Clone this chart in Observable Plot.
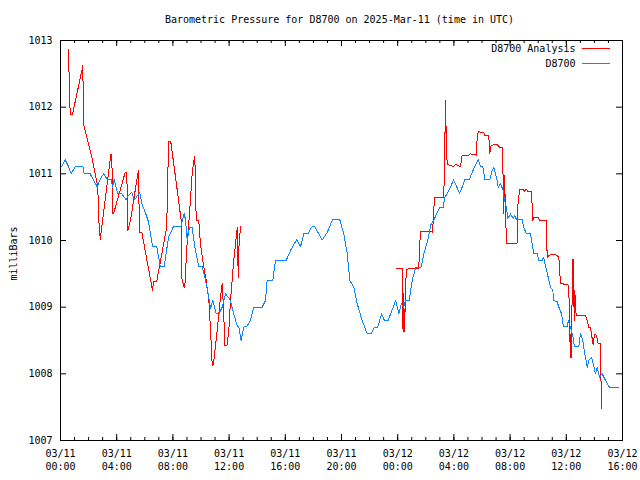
<!DOCTYPE html>
<html><head><meta charset="utf-8">
<script src="https://cdn.jsdelivr.net/npm/d3@7"></script>
<script src="https://cdn.jsdelivr.net/npm/@observablehq/plot@0.6"></script>
<style>html,body{margin:0;padding:0;background:#fff} svg{display:block}</style>
</head><body><div id="chart"></div>
<script>
// hours since 2025-03-11 00:00 UTC
const stationHours = [0.09,0.33,0.57,0.76,1.05,1.59,1.69,2.11,2.63,2.78,3.06,3.35,3.61,3.70,3.82,4.08,4.36,4.68,4.84,5.07,5.27,5.50,5.64,5.79,6.07,6.26,6.55,6.85,7.10,7.38,7.69,8.04,8.56,8.80,8.90,9.02,9.18,9.36,9.56,9.84,10.09,10.32,10.51,10.68,10.84,11.08,11.27,11.51,11.74,11.94,12.10,12.33,12.58,12.69,12.86,13.05,13.29,13.52,13.76,14.36,14.59,14.71,15.11,15.30,16.06,16.37,16.80,17.08,17.32,17.63,17.86,18.08,18.63,18.98,19.36,19.88,20.16,20.41,20.59,20.88,21.12,21.47,21.83,22.11,22.35,22.58,22.85,23.06,23.32,23.68,23.86,24.08,24.25,24.43,24.56,24.82,25.03,25.29,25.67,25.86,26.14,26.38,26.57,26.76,27.00,27.24,27.35,27.52,27.76,27.97,28.19,28.40,28.59,28.78,29.11,29.25,29.47,29.73,29.89,30.06,30.20,30.55,30.72,30.84,30.96,31.08,31.15,31.32,31.51,31.60,31.74,31.84,32.03,32.22,32.33,32.46,32.86,32.97,33.15,33.45,33.57,33.69,33.93,34.04,34.28,34.38,34.52,34.71,34.88,35.04,35.11,35.35,35.47,35.66,35.75,35.82,36.07,36.14,36.30,36.46,36.58,36.89,37.01,37.17,37.32,37.49,37.60,37.79,37.92,38.08,38.20,38.36,38.55,38.79,39.07,39.69];
const stationValues = [1011.11,1011.21,1011.11,1011.0,1011.11,1011.11,1011.0,1011.0,1010.8,1010.9,1011.0,1010.91,1010.91,1010.8,1010.91,1010.7,1010.7,1010.61,1010.68,1010.72,1010.61,1010.68,1010.72,1010.55,1010.4,1010.28,1009.91,1009.91,1009.61,1009.61,1010.05,1010.21,1010.21,1010.4,1010.31,1010.0,1010.2,1010.2,1009.9,1009.61,1009.61,1009.4,1009.2,1008.98,1009.1,1008.9,1008.9,1009.0,1009.2,1009.15,1009.1,1008.9,1008.72,1008.7,1008.5,1008.7,1008.72,1008.8,1009.0,1009.0,1009.1,1009.4,1009.4,1009.7,1009.7,1009.85,1010.01,1009.91,1010.1,1010.1,1010.2,1010.21,1010.01,1010.12,1010.31,1010.31,1010.1,1009.8,1009.4,1009.3,1009.05,1008.8,1008.6,1008.6,1008.7,1008.7,1008.9,1008.8,1008.8,1009.0,1009.1,1008.9,1009.05,1009.0,1009.1,1009.1,1009.4,1009.6,1009.6,1009.8,1010.0,1010.25,1010.3,1010.4,1010.5,1010.5,1010.65,1010.7,1010.8,1010.91,1010.81,1010.71,1010.8,1010.91,1010.91,1011.0,1011.1,1011.21,1011.11,1011.11,1010.91,1010.91,1011.05,1011.1,1011.0,1010.9,1010.8,1010.85,1010.75,1010.6,1010.5,1010.33,1010.4,1010.33,1010.38,1010.31,1010.31,1010.2,1010.1,1010.1,1009.95,1009.8,1009.8,1009.7,1009.7,1009.75,1009.62,1009.45,1009.3,1009.25,1009.1,1009.08,1009.0,1008.9,1008.76,1008.71,1008.71,1008.8,1008.7,1008.57,1008.41,1008.41,1008.6,1008.5,1008.3,1008.1,1008.2,1008.25,1008.15,1008.0,1008.1,1007.95,1008.0,1007.9,1007.8,1007.8];

const analysisHours = [0.57,0.62,0.69,0.85,1.52,1.59,1.64,1.87,2.23,2.47,2.65,2.75,2.83,2.88,3.58,3.65,3.72,3.80,4.60,4.72,4.79,4.98,5.50,5.55,5.62,5.79,6.55,6.62,6.85,7.56,7.69,7.85,8.28,8.59,8.63,8.80,8.90,8.95,9.09,9.23,9.37,9.49,9.56,9.66,9.84,9.96,10.20,10.37,10.56,10.68,10.80,10.89,11.15,11.39,11.51,11.62,11.69,11.86,11.98,12.10,12.33,12.46,12.58,12.65,12.70,12.81,18.00,23.91,24.34,24.38,24.43,24.48,24.61,24.79,25.50,25.55,25.62,26.38,26.48,26.62,27.28,27.35,27.40,27.45,27.52,27.99,28.11,28.47,28.59,29.06,29.18,29.59,29.66,29.73,30.13,30.20,30.48,30.55,30.65,31.08,31.27,31.44,31.51,31.55,31.60,31.74,32.50,32.55,32.67,32.93,33.02,33.17,33.26,33.52,33.62,33.69,34.00,34.11,34.57,34.64,34.88,35.23,35.47,35.59,35.75,36.14,36.23,36.28,36.33,36.37,36.44,36.48,36.52,36.56,36.60,36.70,37.37,37.49,37.60,37.72,37.84,37.91,38.00,38.15,38.27,38.43,38.50];
const analysisValues = [1012.87,1012.4,1011.89,1011.89,1012.55,1012.62,1011.75,1011.55,1011.25,1011.0,1010.8,1010.22,1010.02,1010.1,1011.29,1011.29,1010.4,1010.42,1011.02,1011.02,1010.15,1010.3,1011.0,1011.05,1010.12,1010.12,1009.25,1009.39,1009.39,1010.2,1011.48,1011.48,1010.8,1010.3,1009.43,1009.3,1009.4,1009.8,1010.15,1010.55,1011.0,1011.2,1011.26,1010.3,1010.3,1009.95,1009.6,1009.4,1009.1,1008.65,1008.12,1008.15,1008.65,1009.15,1009.35,1008.9,1008.43,1008.43,1008.65,1009.1,1009.7,1009.95,1010.2,1009.45,1009.9,1010.21,null,1009.58,1009.58,1008.63,1009.2,1008.63,1009.56,1009.58,1009.58,1009.85,1010.14,1010.14,1010.12,1010.65,1010.65,1011.37,1012.1,1011.6,1011.14,1011.11,1011.14,1011.11,1011.28,1011.28,1011.3,1011.28,1011.55,1011.63,1011.62,1011.58,1011.58,1011.3,1011.43,1011.44,1011.4,1011.4,1010.9,1010.4,1010.98,1009.96,1009.96,1010.52,1010.76,1010.76,1010.74,1010.77,1010.73,1010.73,1010.3,1010.34,1010.34,1010.3,1010.3,1009.75,1009.79,1009.79,1009.75,1009.35,1009.35,1009.33,1009.0,1008.25,1008.6,1008.25,1009.72,1009.0,1009.72,1008.8,1009.25,1008.88,1008.88,1008.8,1008.7,1008.7,1008.53,1008.43,1008.59,1008.58,1008.45,1008.45,1007.48];

const seriesNames = ["D8700 Analysis", "D8700"];
const seriesColors = ["#ff0000", "#0a84ff"];
const yTicks = [1007, 1008, 1009, 1010, 1011, 1012, 1013];
const xTickHours = [0, 4, 8, 12, 16, 20, 24, 28, 32, 36, 40];
const xTickDates = ["03/11","03/11","03/11","03/11","03/11","03/11","03/12","03/12","03/12","03/12","03/12"];
const xTickTimes = ["00:00","04:00","08:00","12:00","16:00","20:00","00:00","04:00","08:00","12:00","16:00"];
const minorHours = d3.range(0, 41, 1);
const titleText = "Barometric Pressure for D8700 on 2025-Mar-11 (time in UTC)";
const yLabelText = "milliBars";

const station = stationHours.map((h, i) => ({hour: h, mb: stationValues[i]}));
const analysis = analysisHours.map((h, i) => ({hour: h, mb: analysisValues[i]}));

const W = 640, H = 480, ML = 60, MR = 18, MT = 40, MB = 40;
const PW = W - ML - MR, PH = H - MT - MB;
const font = "DejaVu Sans Mono";

function legendLines(index, scales, values, dims) {
  const g = d3.create("svg:g");
  const xr = dims.width - dims.marginRight;
  const yt = dims.marginTop;
  seriesColors.forEach((c, i) => {
    g.append("line")
      .attr("x1", xr - 40).attr("x2", xr - 12)
      .attr("y1", yt + 8.5 + 15 * i).attr("y2", yt + 8.5 + 15 * i)
      .attr("stroke", c).attr("stroke-width", 1);
  });
  return g.node();
}

const chart = Plot.plot({
  width: W, height: H,
  marginLeft: ML, marginRight: MR, marginTop: MT, marginBottom: MB,
  style: {fontFamily: font, fontSize: "10px", background: "#fff", color: "#000"},
  x: {domain: [0, 40], axis: null},
  y: {domain: [1007, 1013], axis: null},
  marks: [
    Plot.line(analysis, {x: "hour", y: "mb", stroke: seriesColors[0], strokeWidth: 1, shapeRendering: "crispEdges"}),
    Plot.line(station, {x: "hour", y: "mb", stroke: seriesColors[1], strokeWidth: 1, shapeRendering: "crispEdges"}),
    Plot.frame({stroke: "#000"}),
    Plot.tickX(minorHours, {x: d => d, insetTop: PH - 3, stroke: "#000"}),
    Plot.tickX(minorHours, {x: d => d, insetBottom: PH - 3, stroke: "#000"}),
    Plot.tickX(xTickHours, {x: d => d, insetTop: PH - 6, stroke: "#000"}),
    Plot.tickX(xTickHours, {x: d => d, insetBottom: PH - 6, stroke: "#000"}),
    Plot.tickY(yTicks, {y: d => d, insetRight: PW - 6, stroke: "#000"}),
    Plot.tickY(yTicks, {y: d => d, insetLeft: PW - 6, stroke: "#000"}),
    Plot.text(yTicks, {y: d => d, text: d => String(d), frameAnchor: "left", textAnchor: "end", dx: -8, fill: "#000"}),
    Plot.text(xTickHours, {x: d => d, text: (d, i) => xTickDates[i], frameAnchor: "bottom", lineAnchor: "middle", dy: 13, fill: "#000"}),
    Plot.text(xTickHours, {x: d => d, text: (d, i) => xTickTimes[i], frameAnchor: "bottom", lineAnchor: "middle", dy: 26, fill: "#000"}),
    Plot.text([titleText], {text: d => d, frameAnchor: "top", lineAnchor: "middle", dy: -21, dx: -2, fill: "#000"}),
    Plot.text([yLabelText], {text: d => d, frameAnchor: "left", textAnchor: "middle", lineAnchor: "middle", dx: -47, dy: 13, rotate: -90, fill: "#000"}),
    Plot.text([seriesNames[0]], {text: d => d, frameAnchor: "top-right", lineAnchor: "middle", textAnchor: "end", dx: -47, dy: 8.5, fill: "#000"}),
    Plot.text([seriesNames[1]], {text: d => d, frameAnchor: "top-right", lineAnchor: "middle", textAnchor: "end", dx: -47, dy: 23.5, fill: "#000"}),
    legendLines
  ]
});
document.getElementById("chart").appendChild(chart);
</script>
</body></html>
